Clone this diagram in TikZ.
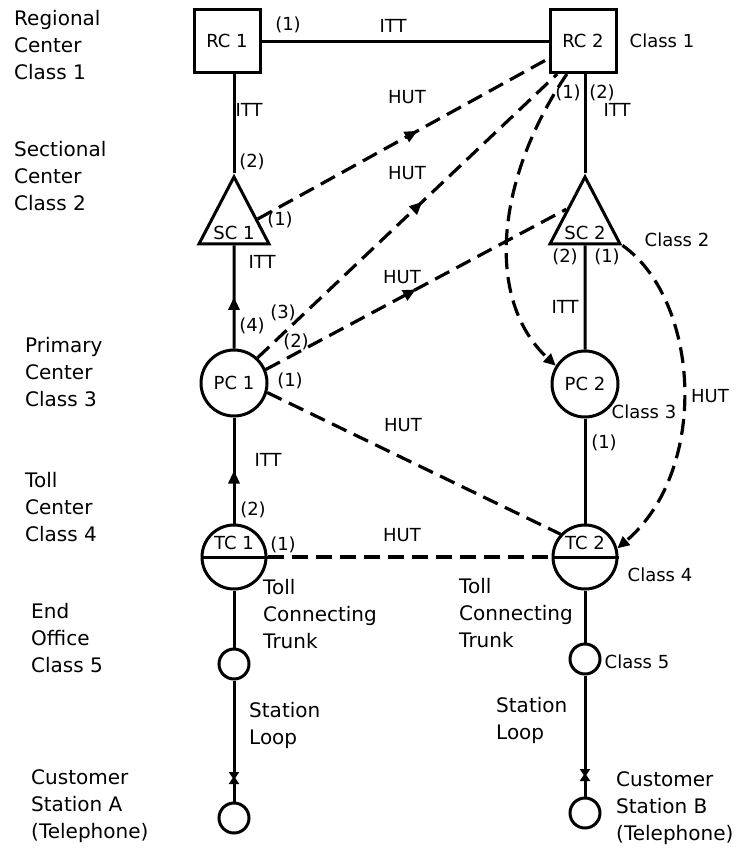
\documentclass[tikz,border=0pt]{standalone}
\usepackage{fontspec}
\setmainfont{DejaVu Sans}
\usetikzlibrary{arrows.meta, positioning, shapes.geometric, decorations.markings, calc}

\begin{document}
\begin{tikzpicture}[
    x=1pt, y=-1pt,
    every node/.style={font=\fontsize{18}{24}\selectfont, inner sep=1pt},
    regional/.style={draw, rectangle, line width=3pt, minimum width=66pt, minimum height=63pt, inner sep=0pt},
    sectional/.style={draw, isosceles triangle, shape border rotate=90, isosceles triangle stretches, line width=3pt, minimum width=70pt, minimum height=67pt, inner sep=0pt, anchor=apex},
    primary/.style={draw, circle, line width=3pt, minimum size=66pt, inner sep=0pt},
    tollctr/.style={draw, circle, line width=3pt, minimum size=64pt, inner sep=0pt},
    station/.style={draw, circle, line width=3pt, minimum size=30pt, inner sep=0pt},
    level/.style={align=left, anchor=west, font=\fontsize{20}{27}\selectfont},
    trunk/.style={draw, line width=3pt},
    hut/.style={draw, line width=3.2pt, dash pattern=on 16pt off 8pt},
    tip/.style={-{Triangle[length=12pt, width=11pt]}},
    bow/.style={-{Triangle[length=8pt, width=10pt]}, shorten >=-2pt},
    midarrow/.style={postaction={decorate}, decoration={markings, mark=at position #1 with {\arrow{Triangle[length=13pt, width=11pt]}}}}
]
    \useasboundingbox (0,0) rectangle (748,849);

    % offices
    \node[regional] (rc1) at (227,41) {RC 1};
    \node[regional] (rc2) at (583,41) {RC 2};
    \node[sectional] (sc1) at (234,173) {SC 1};
    \node[sectional] (sc2) at (585,173) {SC 2};
    \node[primary] (pc1) at (234,383) {PC 1};
    \node[primary] (pc2) at (585,384) {PC 2};
    \node[tollctr, label={[yshift=14pt]center:TC 1}] (tc1) at (234,557) {};
    \node[tollctr, label={[yshift=14pt]center:TC 2}] (tc2) at (585,557) {};
    \node[station] (eo1) at (234,664) {};
    \node[station] (eo2) at (585,659) {};
    \node[station] (cu1) at (234,818) {};
    \node[station] (cu2) at (585,813) {};
    \coordinate (x1) at (234,778);
    \coordinate (x2) at (585,775);

    % final trunks
    \draw[trunk] (rc1.east) -- (rc1.east -| rc2.west);
    \draw[trunk] (sc1.apex |- rc1.south) -- (sc1.apex);
    \draw[trunk] (sc2.apex |- rc2.south) -- (sc2.apex);
    \draw[trunk, midarrow=0.5] (pc1) -- (sc1);
    \draw[trunk] (pc2) -- (sc2);
    \draw[trunk, midarrow=0.5] (tc1) -- (pc1);
    \draw[trunk] (tc2) -- (pc2);
    \draw[trunk] (tc1.west) -- (tc1.east);
    \draw[trunk] (tc2.west) -- (tc2.east);
    \draw[trunk] (tc1) -- (eo1);
    \draw[trunk] (tc2) -- (eo2);
    \draw[trunk, bow] (eo1) -- (x1);
    \draw[trunk, bow] (cu1) -- (x1);
    \draw[trunk, bow] (eo2) -- (x2);
    \draw[trunk, bow] (cu2) -- (x2);

    % high usage trunks
    \draw[hut, midarrow=0.55] (sc1.30) -- (rc2.207);
    \draw[hut, midarrow=0.55] (pc1.47) -- (rc2.232);
    \draw[hut, midarrow=0.5] (pc1.23) -- (sc2.left side);
    \draw[hut] (pc1.-16) -- (tc2.137);
    \draw[hut] (tc1.east) -- (tc2.west);
    \draw[hut, tip] (rc2.244) .. controls (495,180) and (485,300) .. (pc2.148);
    \draw[hut, tip] (sc2.right corner) .. controls (700,300) and (710,470) .. (tc2.15);

    % trunk labels
    \node (n-rc1) at (288,25) {(1)};
    \node (itt-a) at (393,26) {ITT};
    \node (itt-b) at (249,110) {ITT};
    \node (hut-a) at (407,97) {HUT};
    \node (n-rc2a) at (568,93) {(1)};
    \node (n-rc2b) at (602,93) {(2)};
    \node (itt-c) at (617,110) {ITT};
    \node (n-sc1a) at (252,162) {(2)};
    \node (hut-b) at (407,173) {HUT};
    \node (n-sc1b) at (280,220) {(1)};
    \node (itt-d) at (262,262) {ITT};
    \node (n-sc2a) at (565,257) {(2)};
    \node (n-sc2b) at (607,257) {(1)};
    \node (hut-c) at (402,277) {HUT};
    \node (itt-e) at (565,307) {ITT};
    \node (n-pc1d) at (252,326) {(4)};
    \node (n-pc1c) at (283,313) {(3)};
    \node (n-pc1b) at (296,342) {(2)};
    \node (n-pc1a) at (290,381) {(1)};
    \node (hut-d) at (403,425) {HUT};
    \node (hut-e) at (710,396) {HUT};
    \node (n-pc2) at (604,443) {(1)};
    \node (itt-f) at (268,460) {ITT};
    \node (n-tc1b) at (253,510) {(2)};
    \node (n-tc1a) at (283,545) {(1)};
    \node (hut-f) at (402,535) {HUT};

    % class labels
    \node (cls-1) at (662,41) {Class 1};
    \node (cls-2) at (677,240) {Class 2};
    \node (cls-3) at (644,412) {Class 3};
    \node (cls-4) at (660,575) {Class 4};
    \node (cls-5) at (637,662) {Class 5};

    % hierarchy levels
    \node[level] (lv-1) at (13,45) {Regional\\Center\\Class 1};
    \node[level] (lv-2) at (13,176) {Sectional\\Center\\Class 2};
    \node[level] (lv-3) at (24,372) {Primary\\Center\\Class 3};
    \node[level] (lv-4) at (24,507) {Toll\\Center\\Class 4};
    \node[level] (lv-5) at (30,638) {End\\Office\\Class 5};
    \node[level] (lv-a) at (30,806) {Customer\\Station A\\(Telephone)};
    \node[level] (lv-b) at (615,808) {Customer\\Station B\\(Telephone)};
    \node[level] (tct-1) at (262,614) {Toll\\Connecting\\Trunk};
    \node[level] (tct-2) at (458,613) {Toll\\Connecting\\Trunk};
    \node[level] (loop-1) at (248,725) {Station\\Loop};
    \node[level] (loop-2) at (495,720) {Station\\Loop};
\end{tikzpicture}
\end{document}
